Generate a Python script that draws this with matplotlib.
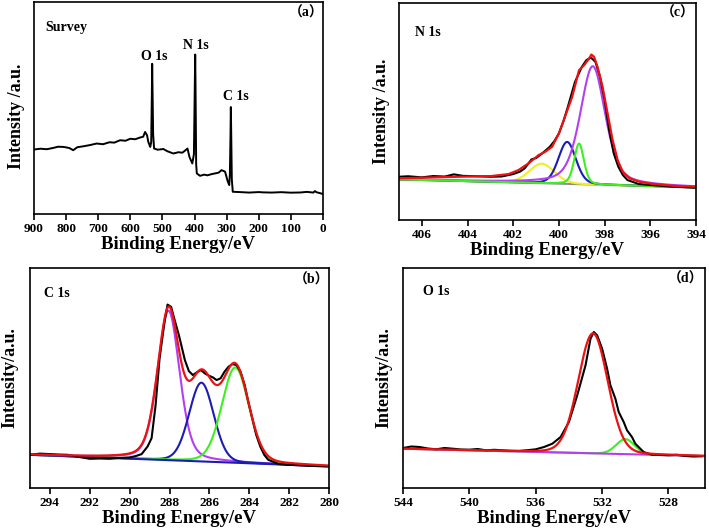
import numpy as np
import matplotlib
matplotlib.use("Agg")
import matplotlib.pyplot as plt

plt.rcParams['font.family'] = ['Liberation Serif', 'Noto Sans CJK SC']
plt.rcParams['font.weight'] = 'bold'

# ---- survey spectrum (a) ----
survey_be = [900, 880, 860, 840, 825, 808, 790, 778, 765, 745, 725, 705, 685, 665, 650,
             632, 615, 600, 585, 570, 560, 554, 548, 544, 538, 535, 533, 532, 531, 529,
             526, 515, 497, 485, 466, 450, 438, 430, 422, 416, 407, 402, 400, 398, 397,
             395, 393, 383, 370, 360, 347, 335, 325, 316, 305, 297, 292, 290, 288, 287,
             286, 284, 281, 260, 230, 200, 186, 160, 130, 100, 70, 50, 30, 25, 20, 10, 0]
survey_int = [64.7, 65.5, 65.0, 66.3, 67.5, 67.3, 66.2, 64.0, 67.0, 68.0, 69.2, 70.7, 70.0, 72.0, 71.6,
              74.0, 73.5, 75.5, 75.0, 76.7, 77.5, 82.3, 79.0, 72.3, 67.3, 72.0, 120.0, 150.7, 128.0, 80.0,
              65.7, 64.5, 65.2, 63.0, 60.7, 62.0, 61.5, 63.5, 65.7, 57.3, 50.7, 60.0, 110.0, 160.0, 130.0,
              50.0, 40.7, 38.3, 39.5, 38.8, 40.0, 40.8, 41.5, 44.0, 42.5, 33.0, 29.0, 40.0, 80.0, 107.3,
              85.0, 35.0, 22.3, 22.0, 21.5, 22.0, 21.7, 21.5, 21.9, 21.4, 21.6, 22.2, 21.5, 23.0, 21.8, 21.0, 20.0]

# ---- N 1s (c) ----
n_be = [407, 406.6, 406.0, 405.5, 405.0, 404.6, 404.2, 403.6, 403.0, 402.5, 402.0, 401.7, 401.5,
        401.2, 401.0, 400.7, 400.4, 400.2, 400.0, 399.8, 399.6, 399.3, 399.0, 398.8, 398.6, 398.4,
        398.2, 398.0, 397.8, 397.6, 397.4, 397.2, 397.0, 396.5, 396.0, 395.5, 395.0, 394.5, 394.0]
n_int = [43.3, 43.8, 42.7, 44.0, 43.5, 45.7, 44.2, 43.8, 43.3, 43.6, 46.0, 48.5, 51.7,
         60.7, 62.0, 67.3, 73.3, 79.0, 86.7, 99.0, 114.0, 138.0, 153.3, 160.0, 162.7, 158.3,
         143.3, 120.0, 90.0, 66.7, 53.3, 45.0, 40.0, 36.0, 35.0, 34.2, 33.3, 32.8, 32.3]
# fitted envelope as drawn
n_fit_be = [407.1, 404.4, 402.95, 402.2, 401.77, 401.33, 400.89, 400.6, 400.3, 400.0, 399.71,
            399.42, 399.12, 398.9, 398.68, 398.58, 398.46, 398.31, 398.09, 397.87, 397.65,
            397.43, 397.21, 396.91, 396.47, 395.88, 394.85, 394.0]
n_fit_int = [41.7, 43.3, 44.0, 46.0, 50.0, 56.7, 65.0, 68.3, 73.3, 86.7, 105.0,
             123.3, 150.0, 155.0, 161.7, 165.7, 163.3, 153.3, 133.3, 106.7, 80.0,
             60.0, 48.3, 41.7, 38.3, 36.0, 34.0, 33.3]
n_base = (40.7, 32.7)                      # baseline at 407 / 394 eV
n_peaks = {                                # centre, height, fwhm, lorentz fraction
    'yellow': (400.75, 19.5, 1.3, 0.15),
    'blue':   (399.64, 42.0, 0.9, 0.2),
    'purple': (398.52, 118.5, 1.3, 0.45),
    'green':  (399.12, 40.7, 0.5, 0.3),
}

# ---- C 1s (b) ----
c_be = [295.0, 294.5, 294.0, 293.6, 293.1, 292.8, 292.5, 292.0, 291.5, 291.0, 290.5, 290.0,
        289.7, 289.4, 289.1, 288.9, 288.7, 288.5, 288.25, 288.1, 287.92, 287.74, 287.53, 287.23,
        287.03, 286.83, 286.63, 286.43, 286.23, 286.03, 285.83, 285.64, 285.44, 285.24, 285.04,
        284.84, 284.64, 284.44, 284.23, 284.05, 283.85, 283.65, 283.45, 283.25, 283.05, 282.56,
        282.07, 281.5, 281.0, 280.5, 280.0]
c_int = [33.3, 34.5, 34.0, 33.6, 33.3, 32.0, 31.0, 29.3, 29.6, 29.3, 30.2, 30.7,
         32.0, 34.0, 41.7, 50.0, 83.0, 130.0, 166.7, 184.0, 181.7, 168.3, 153.3, 128.3,
         117.3, 113.3, 116.0, 118.3, 115.0, 112.7, 111.0, 108.3, 110.0, 116.7, 121.7,
         124.3, 123.3, 116.7, 103.3, 86.7, 70.0, 53.3, 41.7, 33.3, 28.3, 24.3,
         23.3, 22.8, 22.3, 21.9, 21.7]
c_base = (33.3, 21.7)
c_peaks = {
    'purple': (288.05, 150.0, 1.3, 0.3),
    'blue':   (286.40, 79.0, 1.45, 0.1),
    'green':  (284.70, 95.6, 1.6, 0.15),
}

# ---- O 1s (d) ----
o_be = [544.0, 543.5, 543.0, 542.5, 542.0, 541.5, 541.0, 540.5, 540.0, 539.5, 539.0, 538.5,
        538.0, 537.5, 537.0, 536.5, 536.0, 535.5, 535.0, 534.5, 534.0, 533.5, 533.0, 532.7,
        532.5, 532.3, 532.0, 531.7, 531.5, 531.2, 531.0, 530.7, 530.5, 530.2, 530.0, 529.7,
        529.5, 529.0, 528.5, 528.0, 527.5, 527.0, 526.5, 526.0]
o_int = [40.0, 41.5, 41.0, 39.5, 38.7, 40.0, 39.3, 38.5, 38.3, 39.0, 37.7, 38.2,
         37.7, 37.2, 37.0, 37.8, 38.7, 41.0, 44.3, 51.0, 66.0, 92.7, 122.7, 149.3,
         156.0, 152.7, 139.3, 119.3, 102.7, 89.3, 76.0, 66.0, 57.7, 51.0, 44.3, 39.3,
         36.0, 33.3, 33.0, 32.7, 33.2, 32.0, 31.5, 31.7]
o_base = (39.3, 32.0)
o_main = (532.55, 120.0, 2.1, 0.1)         # red fitted peak
o_minor = (530.60, 15.0, 1.3, 0.1)         # green peak

colors = {'purple': '#b23ff0', 'blue': '#1c1cb4', 'green': '#3cf020',
          'yellow': '#f0f020', 'gray': '#8c8c8c', 'red': '#ee1111'}


def pv(x, c, h, w, eta):
    u = (x - c) / w
    return h * ((1 - eta) * np.exp(-4 * np.log(2) * u ** 2) + eta / (1 + 4 * u ** 2))


def style(ax, xlim, xticks, ylim, w_px, h_px, ylabel):
    ax.set_xlim(*xlim)
    ax.set_ylim(*ylim)
    ax.set_xticks(xticks)
    ax.set_yticks([])
    ax.tick_params(axis='x', direction='out', length=4, width=1.2, pad=2.5,
                   labelsize=9.5, top=False)
    for lbl in ax.get_xticklabels():
        lbl.set_fontweight('bold')
    for s in ax.spines.values():
        s.set_linewidth(1.2)
    ax.set_xlabel('Binding Energy/eV', fontsize=13.5, fontweight='bold')
    ax.xaxis.set_label_coords(0.5, -22 / h_px)
    ax.set_ylabel(ylabel, fontsize=13, fontweight='bold')
    ax.yaxis.set_label_coords(-9 / w_px, 0.5)


fig = plt.figure(figsize=(7.09, 5.31), dpi=100)

# (a) survey
ax = fig.add_axes([34 / 709, 1 - 214 / 531, 289 / 709, 212 / 531])
ax.plot(survey_be, survey_int, color='black', lw=1.4)
style(ax, (900, 0), range(900, -1, -100), (0, 212.7), 289, 212, 'Intensity /a.u.')
ax.yaxis.set_label_coords(-9 / 289, 0.46)
ax.text(0.038, 0.882, 'Survey', transform=ax.transAxes, fontsize=10, ha='left', va='center')
ax.text(0.417, 0.745, 'O 1s', transform=ax.transAxes, fontsize=10, ha='center', va='center')
ax.text(0.559, 0.797, 'N 1s', transform=ax.transAxes, fontsize=10, ha='center', va='center')
ax.text(0.697, 0.552, 'C 1s', transform=ax.transAxes, fontsize=10, ha='center', va='center')
ax.text(0.941, 0.948, '（a）', transform=ax.transAxes, fontsize=10, ha='center', va='center')

# (c) N 1s
ax = fig.add_axes([399 / 709, 1 - 220 / 531, 297 / 709, 217 / 531])
x = np.linspace(407, 394, 600)
base = n_base[0] + (n_base[1] - n_base[0]) * (407 - x) / 13
ax.plot(x, base, color=colors['gray'], lw=1.5)
for name in ['yellow', 'blue', 'purple', 'green']:
    ax.plot(x, base + pv(x, *n_peaks[name]), color=colors[name], lw=1.5)
ax.plot(n_be, n_int, color='black', lw=1.5)
ax.plot(n_fit_be, n_fit_int, color=colors['red'], lw=1.6)
style(ax, (407, 394), range(406, 393, -2), (0, 217.3), 297, 217, 'Intensity /a.u.')
ax.text(0.054, 0.866, 'N 1s', transform=ax.transAxes, fontsize=10, ha='left', va='center')
ax.text(0.939, 0.954, '（c）', transform=ax.transAxes, fontsize=10, ha='center', va='center')

# (b) C 1s
ax = fig.add_axes([30 / 709, 1 - 488 / 531, 299 / 709, 220 / 531])
x = np.linspace(295, 280, 600)
base = c_base[0] + (c_base[1] - c_base[0]) * (295 - x) / 15
total = base.copy()
for name in ['purple', 'blue', 'green']:
    comp = pv(x, *c_peaks[name])
    total += comp
    ax.plot(x, base + comp, color=colors[name], lw=1.5)
ax.plot(x, base, color=colors['blue'], lw=1.5)
ax.plot(c_be, c_int, color='black', lw=1.5)
ax.plot(x, total, color=colors['red'], lw=1.6)
style(ax, (295, 280), range(294, 279, -2), (0, 220.7), 299, 220, 'Intensity/a.u.')
ax.yaxis.set_label_coords(-12 / 299, 0.5)
ax.text(0.047, 0.882, 'C 1s', transform=ax.transAxes, fontsize=10, ha='left', va='center')
ax.text(0.943, 0.945, '（b）', transform=ax.transAxes, fontsize=10, ha='center', va='center')

# (d) O 1s
ax = fig.add_axes([403 / 709, 1 - 488 / 531, 302 / 709, 220 / 531])
x = np.linspace(544, 525.8, 600)
base = o_base[0] + (o_base[1] - o_base[0]) * (544 - x) / 18
ax.plot(x, base + pv(x, *o_minor), color=colors['green'], lw=1.5)
ax.plot(x, base, color=colors['purple'], lw=1.5)
ax.plot(o_be, o_int, color='black', lw=1.5)
ax.plot(x, base + pv(x, *o_main), color=colors['red'], lw=1.6)
style(ax, (544, 525.8), range(544, 526, -4), (0, 220), 302, 220, 'Intensity/a.u.')
ax.yaxis.set_label_coords(-11 / 302, 0.5)
ax.text(0.066, 0.891, 'O 1s', transform=ax.transAxes, fontsize=10, ha='left', va='center')
ax.text(0.934, 0.95, '（d）', transform=ax.transAxes, fontsize=10, ha='center', va='center')

fig.savefig('out.png', dpi=100)
